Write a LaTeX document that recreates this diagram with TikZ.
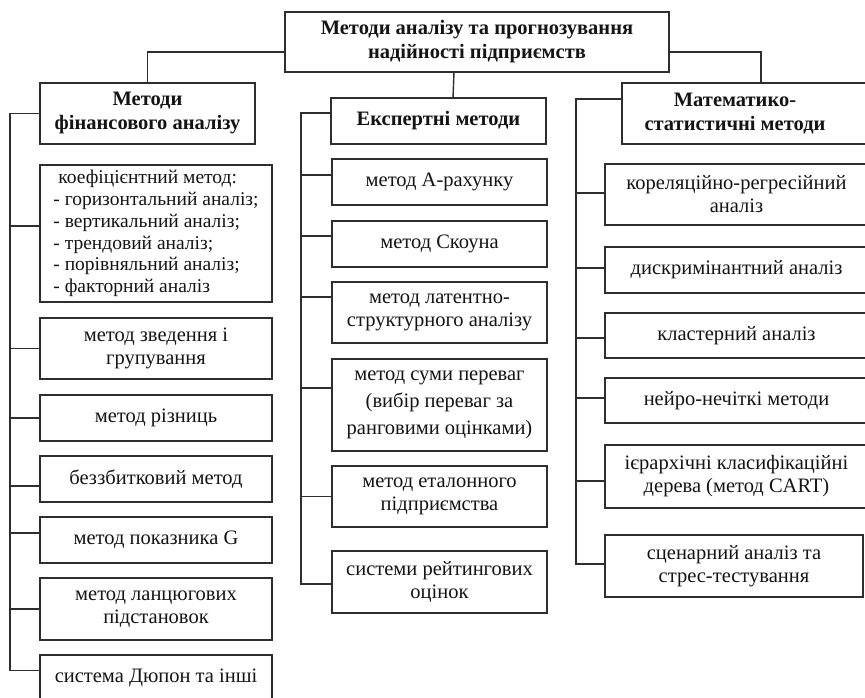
\documentclass[tikz,border=0pt]{standalone}
\usepackage{fontspec}
\setmainfont{Liberation Serif}
\usetikzlibrary{calc}
\definecolor{linec}{HTML}{2E2E2E}
\definecolor{txt}{HTML}{141414}
\begin{document}
\begin{tikzpicture}[x=1pt,y=-1pt,
  corners/.style n args={4}{at={({(#1+#3)/2},{(#2+#4)/2})}, minimum width={#3-#1}, minimum height={#4-#2}},
  box/.style={draw=linec, line width=1.5pt, rectangle, inner sep=2pt, outer sep=0pt, align=center,
    font=\fontsize{20.5}{23}\selectfont, text=txt},
  headfont/.style={font=\fontsize{20.5}{24}\selectfont\bfseries, text=txt, align=center},
  head/.style={box, headfont},
  conn/.style={draw=linec, line width=1.4pt}]
\useasboundingbox[fill=white] (0,0) rectangle (865,698);

% headers
\node[head, corners={285}{12}{669}{72}] (top) {Методи аналізу та прогнозування\\надійності підприємств};
\node[head, corners={40}{83}{255}{144}] (fin) {Методи\\фінансового аналізу};
\node[head, corners={331}{98}{546}{144}] (exp) {Експертні методи};
\node[box, corners={622}{83}{900}{144},
  label={[name=mathT, headfont, xshift=-26pt]center:Математико-\\статистичні методи}] (math) {};

% financial methods
\node[box, corners={40}{165}{272}{302}, align=left, font=\fontsize{19.5}{21.8}\selectfont] (f1) {\hspace*{5pt}коефіцієнтний метод:\\- горизонтальний аналіз;\\- вертикальний аналіз;\\- трендовий аналіз;\\- порівняльний аналіз;\\- факторний аналіз};
\node[box, corners={40}{318}{272}{379}] (f2) {метод зведення і\\групування};
\node[box, corners={40}{395}{272}{441}] (f3) {метод різниць};
\node[box, corners={40}{456}{272}{502}] (f4) {беззбитковий метод};
\node[box, corners={40}{517}{272}{563}] (f5) {метод показника G};
\node[box, corners={40}{578}{272}{640}] (f6) {метод ланцюгових\\підстановок};
\node[box, corners={40}{655}{272}{700}] (f7) {система Дюпон та інші};

% expert methods
\node[box, corners={332}{159}{547}{205}] (e1) {метод А-рахунку};
\node[box, corners={332}{221}{547}{267}] (e2) {метод Скоуна};
\node[box, corners={332}{282}{547}{343}] (e3) {метод латентно-\\структурного аналізу};
\node[box, corners={332}{359}{547}{451}, font=\fontsize{20.5}{27}\selectfont] (e4) {метод суми переваг\\(вибір переваг за\\ранговими оцінками)};
\node[box, corners={332}{466}{547}{527}] (e5) {метод еталонного\\підприємства};
\node[box, corners={332}{551}{547}{613}] (e6) {системи рейтингових\\оцінок};

% math-statistical methods
\node[box, corners={605}{164}{868}{225}] (m1) {кореляційно-регресійний\\аналіз};
\node[box, corners={605}{247}{868}{293}] (m2) {дискримінантний аналіз};
\node[box, corners={605}{313}{868}{358}] (m3) {кластерний аналіз};
\node[box, corners={605}{378}{868}{423}] (m4) {нейро-нечіткі методи};
\node[box, corners={605}{445}{868}{508}] (m5) {ієрархічні класифікаційні\\дерева (метод CART)};
\node[box, corners={605}{535}{863}{597}] (m6) {сценарний аналіз та\\стрес-тестування};

% top-level connectors
\draw[conn] ([yshift=-10pt]top.west) -| (fin.north);
\draw[conn] ([yshift=-10pt]top.east) -| (math.north);
\draw[conn] ([xshift=-23pt]top.south) -- ([xshift=14.5pt]exp.north);

% spines
\coordinate (fs) at (10,0);
\coordinate (es) at (301,0);
\coordinate (ms) at (576,0);

\draw[conn] (fin.west) -- (fin.west -| fs) -- ($(f7.west -| fs)+(0,-7)$) -- ($(f7.west)+(0,-7)$);
\foreach \n/\s in {f1/-7.5, f2/0, f3/0, f4/7, f5/-7, f6/0}
  \draw[conn] ($(\n.west)+(0,\s)$) -- ($(\n.west -| fs)+(0,\s)$);

\draw[conn] ($(exp.west)+(0,-8)$) -- ($(exp.west -| es)+(0,-8)$) -- ($(e6.west -| es)+(0,2)$) -- ($(e6.west)+(0,2)$);
\foreach \n/\s in {e1/-7, e2/-8, e3/-15.5, e4/-17, e5/0}
  \draw[conn] ($(\n.west)+(0,\s)$) -- ($(\n.west -| es)+(0,\s)$);

\draw[conn] ($(math.west)+(0,-14.5)$) -- ($(math.west -| ms)+(0,-14.5)$) -- ($(m6.west -| ms)+(0,-2)$) -- ($(m6.west)+(0,-2)$);
\foreach \n/\s in {m1/-1.5, m2/-2, m3/2.5, m4/-2.5, m5/4.5}
  \draw[conn] ($(\n.west)+(0,\s)$) -- ($(\n.west -| ms)+(0,\s)$);
\end{tikzpicture}
\end{document}
